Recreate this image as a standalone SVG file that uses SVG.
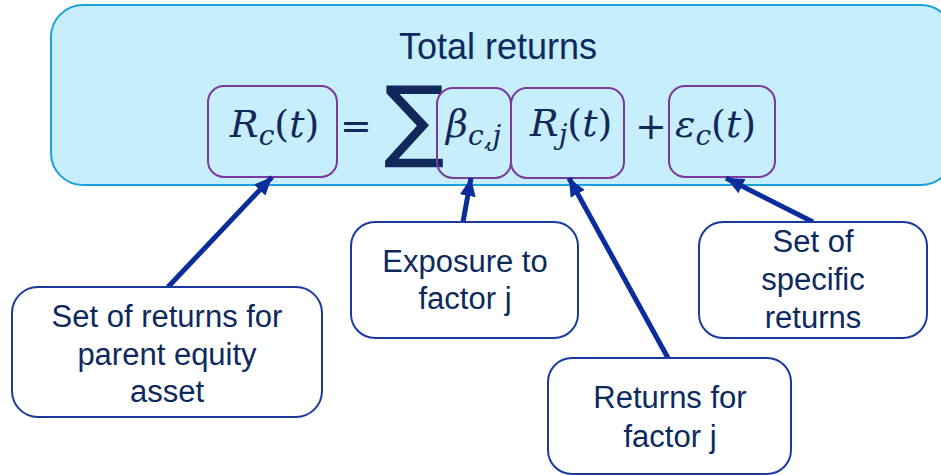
<svg xmlns="http://www.w3.org/2000/svg" width="941" height="475" viewBox="0 0 941 475">
<defs>
<marker id="ah" markerUnits="userSpaceOnUse" markerWidth="20" markerHeight="20" viewBox="0 0 20 20" refX="18" refY="10" orient="auto">
<path d="M0,2 L18,10 L0,18 Z" fill="#0b2d9b"/>
</marker>
</defs>
<style>
.big{fill:#c6eefc;stroke:#1aa0dc;stroke-width:2}
.term{fill:none;stroke:#7b3a9e;stroke-width:2}
.call{fill:#ffffff;stroke:#1a3a9e;stroke-width:2}
.lbl{font-family:"Liberation Sans",Arial,sans-serif;font-size:31px;fill:#0d2a5e;text-anchor:middle}
.ttl{font-family:"Liberation Sans",Arial,sans-serif;font-size:36px;fill:#0d2a5e;text-anchor:middle}
.m{font-family:"DejaVu Serif","Liberation Serif",serif;font-style:italic;font-size:38px;fill:#13285a}
.ms{font-family:"DejaVu Serif","Liberation Serif",serif;font-style:italic;font-size:28px;fill:#13285a}
.mu{font-family:"DejaVu Serif","Liberation Serif",serif;font-size:38px;fill:#13285a}
.sig{font-family:"DejaVu Sans",sans-serif;font-size:90px;fill:#13285a}
.conn line{stroke:#0b2d9b;stroke-width:5;marker-end:url(#ah)}
</style>
<g id="total">
<rect class="big" x="51" y="5" width="902" height="180" rx="32"/>
<text class="ttl" x="498" y="59">Total returns</text>
</g>
<g id="eq">
<text class="mu" x="340" y="139">=</text>
<text class="sig" x="384" y="150">∑</text>
<text class="mu" x="635" y="139">+</text>
</g>
<g id="term-rc">
<rect class="term" x="208" y="86" width="129" height="91" rx="16"/>
<text x="230" y="137"><tspan class="m">R</tspan><tspan class="ms" dy="8">c</tspan><tspan class="mu" dy="-8">(</tspan><tspan class="m">t</tspan><tspan class="mu">)</tspan></text>
</g>
<g id="term-beta">
<rect class="term" x="437" y="88" width="74" height="90" rx="16"/>
<text x="446" y="137"><tspan class="m">β</tspan><tspan class="ms" dy="8">c,j</tspan></text>
</g>
<g id="term-rj">
<rect class="term" x="511" y="88" width="113" height="90" rx="16"/>
<text x="530" y="136"><tspan class="m">R</tspan><tspan class="ms" dy="8">j</tspan><tspan class="mu" dy="-8">(</tspan><tspan class="m">t</tspan><tspan class="mu">)</tspan></text>
</g>
<g id="term-eps">
<rect class="term" x="669" y="86" width="106" height="91" rx="16"/>
<text x="675" y="137"><tspan class="m">ε</tspan><tspan class="ms" dy="8">c</tspan><tspan class="mu" dy="-8">(</tspan><tspan class="m">t</tspan><tspan class="mu">)</tspan></text>
</g>
<g class="conn">
<line x1="168" y1="287" x2="272" y2="177"/>
<line x1="463" y1="222" x2="471" y2="178"/>
<line x1="668" y1="358" x2="569" y2="178"/>
<line x1="813" y1="222" x2="726" y2="178"/>
</g>
<g id="callout-parent">
<rect class="call" x="12" y="287" width="310" height="130" rx="26"/>
<text class="lbl" x="167" y="327">Set of returns for</text>
<text class="lbl" x="167" y="365">parent equity</text>
<text class="lbl" x="167" y="402">asset</text>
</g>
<g id="callout-exposure">
<rect class="call" x="351" y="222" width="227" height="116" rx="24"/>
<text class="lbl" x="465" y="272">Exposure to</text>
<text class="lbl" x="465" y="309">factor j</text>
</g>
<g id="callout-specific">
<rect class="call" x="699" y="222" width="228" height="116" rx="24"/>
<text class="lbl" x="813" y="252">Set of</text>
<text class="lbl" x="813" y="290">specific</text>
<text class="lbl" x="813" y="328">returns</text>
</g>
<g id="callout-factor">
<rect class="call" x="548" y="358" width="243" height="116" rx="24"/>
<text class="lbl" x="670" y="408">Returns for</text>
<text class="lbl" x="670" y="447">factor j</text>
</g>
</svg>
